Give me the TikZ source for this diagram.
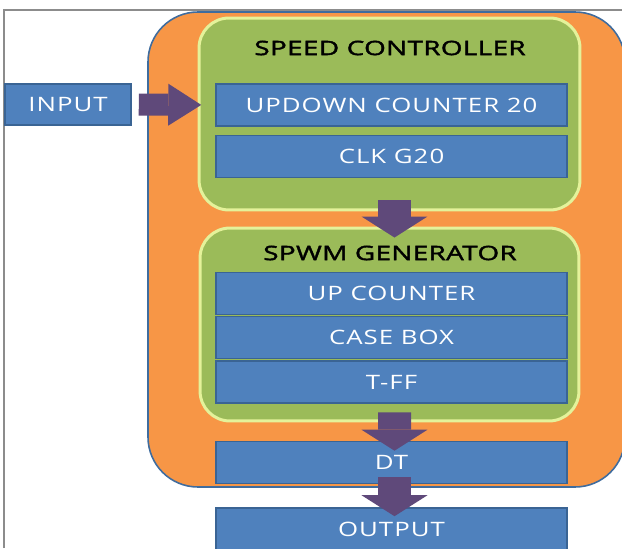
\documentclass[tikz,border=0pt]{standalone}
\usepackage{fontspec}
\setmainfont{Open Sans}
\newfontfamily\boxfont{Open Sans}[FakeStretch=1.3,LetterSpace=5]
\newfontfamily\titlefont{Open Sans}[FakeStretch=1.4,LetterSpace=2,FakeBold=2]
\usetikzlibrary{positioning,arrows.meta}

\definecolor{frameGray}{HTML}{8C8C8C}
\definecolor{orangeFill}{HTML}{F79646}
\definecolor{orangeEdge}{HTML}{3F6C9E}
\definecolor{greenFill}{HTML}{9BBB59}
\definecolor{greenEdge}{HTML}{E4F29A}
\definecolor{blueFill}{HTML}{4F81BD}
\definecolor{blueEdge}{HTML}{3A6494}
\definecolor{arrowFill}{HTML}{5F497A}

\tikzset{
  block/.style={draw=blueEdge, fill=blueFill, line width=0.9pt, text=white,
    minimum width=7.02cm, minimum height=0.84cm, inner sep=0pt,
    font=\boxfont\fontsize{11.3}{13}\selectfont},
  groupbox/.style={draw=greenEdge, fill=greenFill, line width=1.7pt,
    rounded corners=0.6cm, inner sep=0pt},
  grouptitle/.style={text=black, font=\titlefont\fontsize{11.3}{13}\selectfont},
  downarrow/.style={arrowFill, line width=0.66cm,
    -{Triangle[width=1.32cm, length=0.42cm, line width=0pt]}},
  sidearrow/.style={arrowFill, line width=0.44cm,
    -{Triangle[width=0.84cm, length=0.66cm, line width=0pt]}}
}

\begin{document}
\begin{tikzpicture}[x=0.02cm, y=-0.02cm]
\clip (0,0) rectangle (622,548);
\fill[white] (0,0) rectangle (622,548);
\draw[frameGray, line width=0.8pt] (4,548) -- (4,10) -- (622,10);

% outer block
\draw[fill=orangeFill, draw=orangeEdge, line width=0.9pt, rounded corners=1cm]
  (148,12) rectangle (625,487);

% speed controller
\node (sc) [groupbox, minimum width=7.62cm, minimum height=3.84cm] at (389.5,114) {};
\node (sctitle) [grouptitle] at (390,48) {SPEED CONTROLLER};
\node (updown) [block] at (391.5,105) {UPDOWN COUNTER 20};
\node (clk) [block] at (391.5,156.5) {CLK G20};

% spwm generator
\node (sg) [groupbox, minimum width=7.58cm, minimum height=3.86cm] at (389.5,324.5) {};
\node (sgtitle) [grouptitle] at (390,253) {SPWM GENERATOR};
\node (upc) [block] at (391.5,293.5) {UP COUNTER};
\node (casebox) [block] at (391.5,337.5) {CASE BOX};
\node (tff) [block] at (391.5,382) {T-FF};

\node (dt) [block] at (391.5,462.5) {DT};
\node (out) [block] at (391.5,529) {OUTPUT};
\node (in) [block, minimum width=2.52cm, minimum height=0.82cm] at (68,104.5) {INPUT};

% arrows
\draw[sidearrow, shorten <=0.14cm, shorten >=0.28cm] (in.east) -- (updown.west);
\draw[downarrow, shorten <=-0.22cm, shorten >=-0.22cm] ([xshift=0.1cm]sc.south) -- ([xshift=0.1cm]sg.north);
\draw[downarrow, shorten <=-0.2cm, shorten >=-0.2cm] ([xshift=0.1cm]sg.south) -- ([xshift=0.06cm]dt.north);
\draw[downarrow, shorten <=-0.14cm, shorten >=-0.18cm] ([xshift=0.06cm]dt.south) -- ([xshift=0.06cm]out.north);
\end{tikzpicture}
\end{document}
